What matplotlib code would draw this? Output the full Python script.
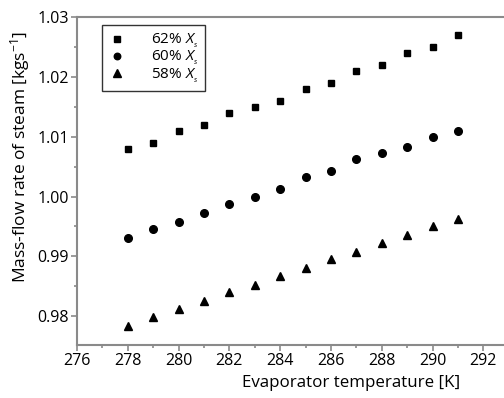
import matplotlib
matplotlib.use("Agg")
import matplotlib.pyplot as plt
from matplotlib.ticker import MultipleLocator

plt.rcParams['font.family'] = ['Open Sans', 'DejaVu Sans']
plt.rcParams['mathtext.fontset'] = 'custom'
plt.rcParams['mathtext.it'] = 'Open Sans:italic'
plt.rcParams['mathtext.rm'] = 'Open Sans'

# evaporator temperature [K]
temp = [278, 279, 280, 281, 282, 283, 284, 285, 286, 287, 288, 289, 290, 291]

# mass-flow rate of steam [kg/s]
x62 = [1.008, 1.009, 1.011, 1.012, 1.014, 1.015, 1.016, 1.018, 1.019, 1.021,
       1.022, 1.024, 1.025, 1.027]
x60 = [0.993, 0.9945, 0.9958, 0.9973, 0.9987, 1.000, 1.0012, 1.0032, 1.0042,
       1.0062, 1.0072, 1.0082, 1.010, 1.011]
x58 = [0.9783, 0.9798, 0.9812, 0.9825, 0.984, 0.9853, 0.9867, 0.988, 0.9895,
       0.9908, 0.9922, 0.9935, 0.995, 0.9963]

labels = ['62% $X_{_s}$', '60% $X_{_s}$', '58% $X_{_s}$']

W, H = 504, 398
fig = plt.figure(figsize=(W / 100, H / 100), dpi=100)
ax = fig.add_axes([77 / W, 1 - 345 / H, 1 - 77 / W, (345 - 17) / H])

ax.plot(temp, x62, 's', color='black', ms=5, label=labels[0])
ax.plot(temp, x60, 'o', color='black', ms=5.5, label=labels[1])
ax.plot(temp, x58, '^', color='black', ms=6, label=labels[2])

ax.set_xlim(276, 276 + 427 / 25.4)
ax.set_ylim(0.9752, 1.03)
ax.xaxis.set_major_locator(MultipleLocator(2))
ax.xaxis.set_minor_locator(MultipleLocator(1))
ax.yaxis.set_major_locator(MultipleLocator(0.01))
ax.yaxis.set_minor_locator(MultipleLocator(0.005))
ax.yaxis.set_major_formatter(plt.FormatStrFormatter('%.2f'))

for s in ['left', 'bottom', 'top']:
    ax.spines[s].set_color('#8a8a8a')
    ax.spines[s].set_linewidth(1.5)
ax.spines['right'].set_visible(False)
ax.tick_params(which='both', color='#8a8a8a', width=1.2, labelsize=11.5,
               direction='out', pad=2)
ax.tick_params(which='major', length=4)
ax.tick_params(which='minor', length=2.5)

# axis labels placed in figure pixels (centre of text)
ax.set_xlabel('Evaporator temperature [K]', fontsize=12.2, va='center')
ax.xaxis.set_label_coords(351.5 / W, 1 - 383 / H, transform=fig.transFigure)
ax.set_ylabel('Mass-flow rate of steam [kgs$^{-1}$]', fontsize=12.5, va='center')
ax.yaxis.set_label_coords(20.5 / W, 1 - 157.5 / H, transform=fig.transFigure)

leg = ax.legend(loc='upper left', bbox_to_anchor=(25 / 427, 1 - 8 / 328),
                fontsize=11, frameon=True, fancybox=False, handlelength=1,
                handletextpad=1.75, borderpad=0.45, labelspacing=-0.05,
                borderaxespad=0, markerscale=0.85)
leg.get_frame().set_edgecolor('black')
leg.get_frame().set_linewidth(1.0)

fig.savefig('out.png', dpi=100)
